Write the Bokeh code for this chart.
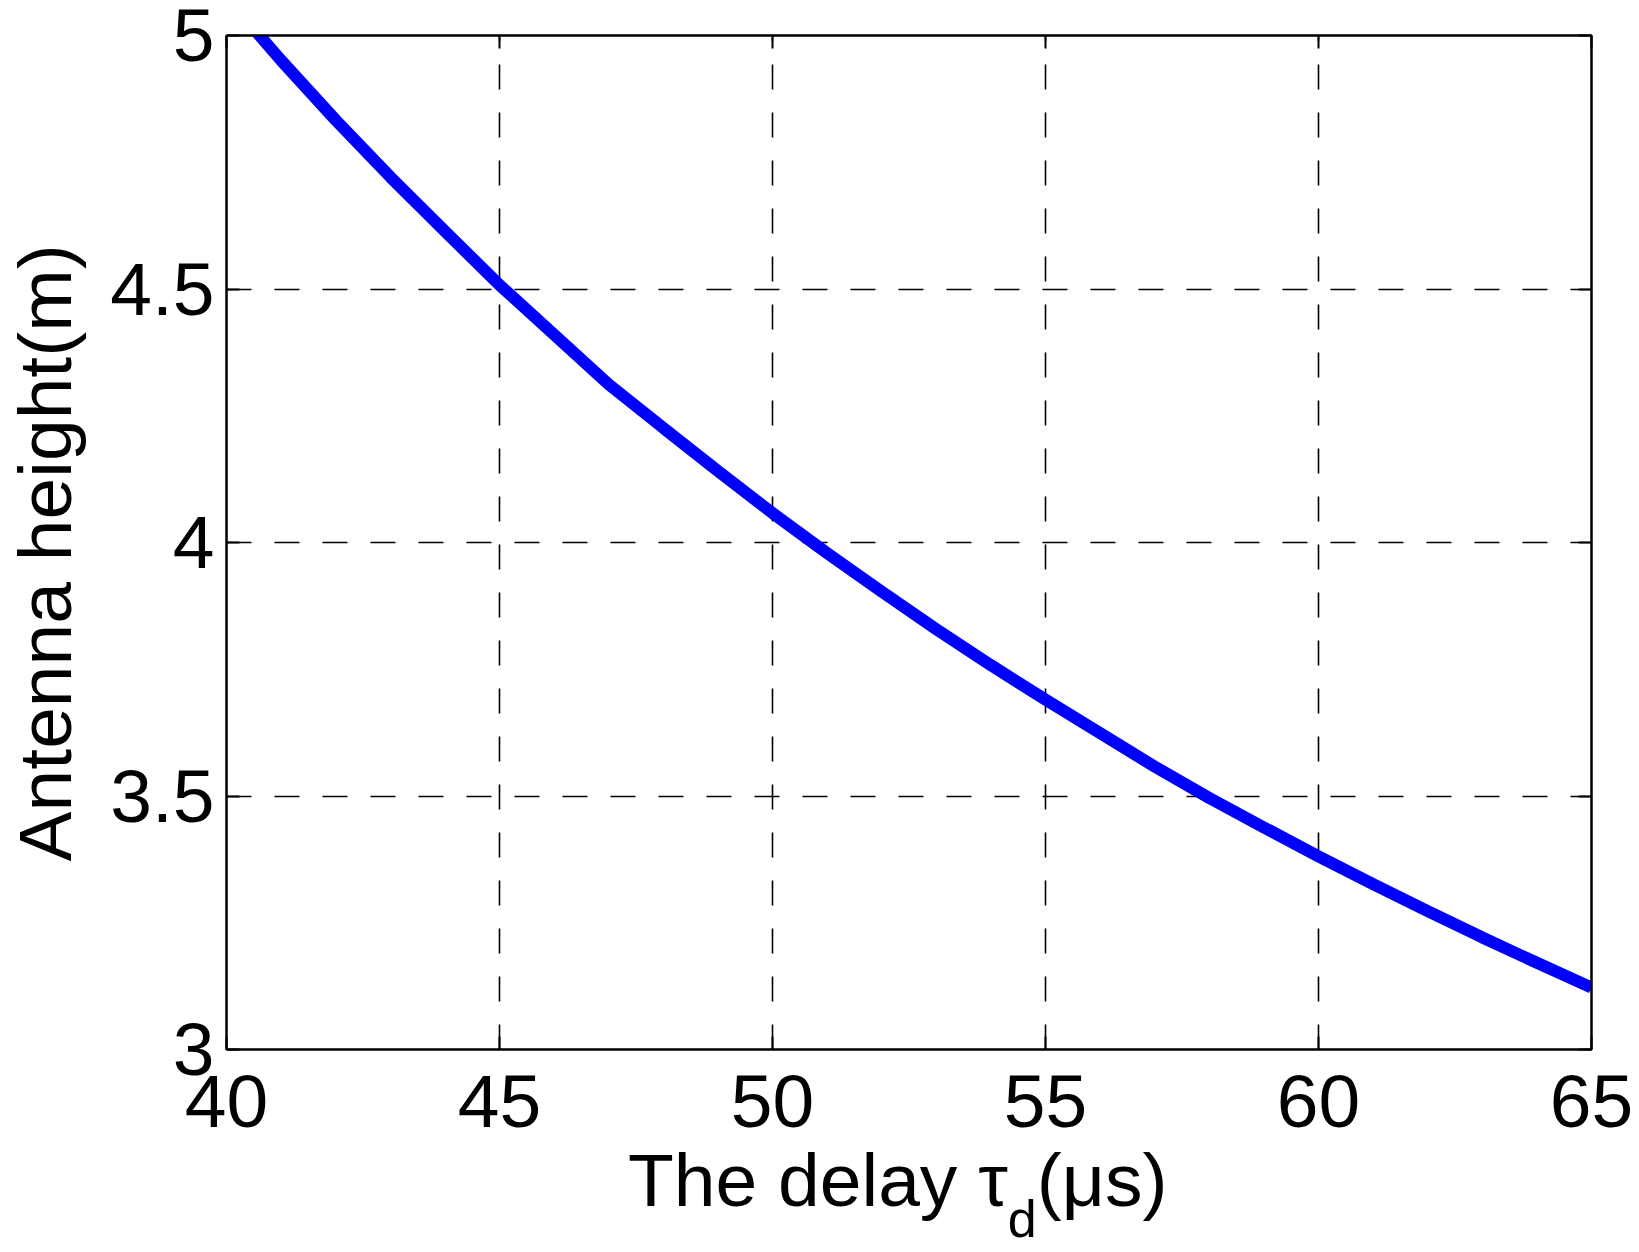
from bokeh.plotting import figure
from bokeh.models import Range1d, FixedTicker, LinearAxis, Div
from bokeh.layouts import column
from bokeh.embed import file_html
from bokeh.resources import INLINE

# ---- data ----
delay_us = [40, 41, 42, 43, 44, 45, 46, 47, 48, 49, 50, 51, 52, 53,
            54, 55, 56, 57, 58, 59, 60, 61, 62, 63, 64, 65]
height_m = [5.075, 4.951, 4.833, 4.721, 4.614, 4.508, 4.410, 4.312, 4.226, 4.141,
            4.058, 3.979, 3.903, 3.829, 3.758, 3.690, 3.624, 3.558, 3.496, 3.438,
            3.381, 3.326, 3.273, 3.221, 3.171, 3.122]
x_ticks = [40, 45, 50, 55, 60, 65]
y_ticks = [3.0, 3.5, 4.0, 4.5, 5.0]
y_tick_labels = ["3", "3.5", "4", "4.5", "5"]
x_title_main = "The delay τ"
x_title_sub = "d"
x_title_unit = "(μs)"
y_title = "Antenna height(m)"

FONT = "Liberation Sans"

p = figure(frame_width=1365, frame_height=1014,
           min_border_left=224, min_border_right=42,
           min_border_top=35, min_border_bottom=118,
           x_range=Range1d(40, 65), y_range=Range1d(3, 5),
           output_backend="svg", toolbar_location=None,
           background_fill_color="white", border_fill_color="white")

p.outline_line_color = "black"
p.outline_line_width = 2

p.line(delay_us, height_m, line_color="#0000FF", line_width=12)

# axes
for ax in (p.xaxis[0], p.yaxis[0]):
    ax.axis_line_color = "black"
    ax.axis_line_width = 2
    ax.major_tick_in = 13
    ax.major_tick_out = 0
    ax.major_tick_line_width = 2
    ax.major_tick_line_color = "black"
    ax.minor_tick_line_color = None
    ax.major_label_text_font = FONT
    ax.major_label_text_font_size = "75px"
    ax.major_label_text_color = "black"

p.xaxis[0].ticker = FixedTicker(ticks=x_ticks)
p.yaxis[0].ticker = FixedTicker(ticks=y_ticks)
p.yaxis[0].major_label_overrides = {t: l for t, l in zip(y_ticks, y_tick_labels)}
p.xaxis[0].major_label_standoff = 26
p.yaxis[0].major_label_standoff = 12

p.yaxis[0].axis_label = y_title + "\u00a0"
p.yaxis[0].axis_label_text_font = FONT
p.yaxis[0].axis_label_text_font_size = "75px"
p.yaxis[0].axis_label_text_font_style = "normal"
p.yaxis[0].axis_label_text_color = "black"
p.yaxis[0].axis_label_standoff = 20

# box ticks on top and right (no labels)
top_ax = LinearAxis(ticker=FixedTicker(ticks=x_ticks))
right_ax = LinearAxis(ticker=FixedTicker(ticks=y_ticks))
for ax in (top_ax, right_ax):
    ax.axis_line_color = "black"
    ax.axis_line_width = 2
    ax.major_tick_in = 13
    ax.major_tick_out = 0
    ax.major_tick_line_width = 2
    ax.minor_tick_line_color = None
    ax.major_label_text_font_size = "1px"
    ax.major_label_text_color = None
    ax.major_label_standoff = 0
p.add_layout(top_ax, "above")
p.add_layout(right_ax, "right")

# grid
for g in (p.xgrid[0], p.ygrid[0]):
    g.grid_line_color = "black"
    g.grid_line_width = 1.6
    g.grid_line_dash = "25 23"
p.xgrid[0].ticker = FixedTicker(ticks=x_ticks)
p.ygrid[0].ticker = FixedTicker(ticks=y_ticks)

# x-axis title with subscript, as HTML text below the figure
html = (
    '<div style="position:relative; top:-24px; padding-left:628px; white-space:nowrap; '
    "font-family:'Liberation Sans'; font-size:75px; line-height:75px; color:black;\">"
    f'{x_title_main}<span style="position:relative; top:31px; font-size:52px;">{x_title_sub}</span>'
    f'{x_title_unit}</div>'
)
div = Div(text=html, width=1631, height=80, margin=0)

layout = column(p, div, spacing=0)

open("out.html", "w").write(file_html(layout, INLINE))
